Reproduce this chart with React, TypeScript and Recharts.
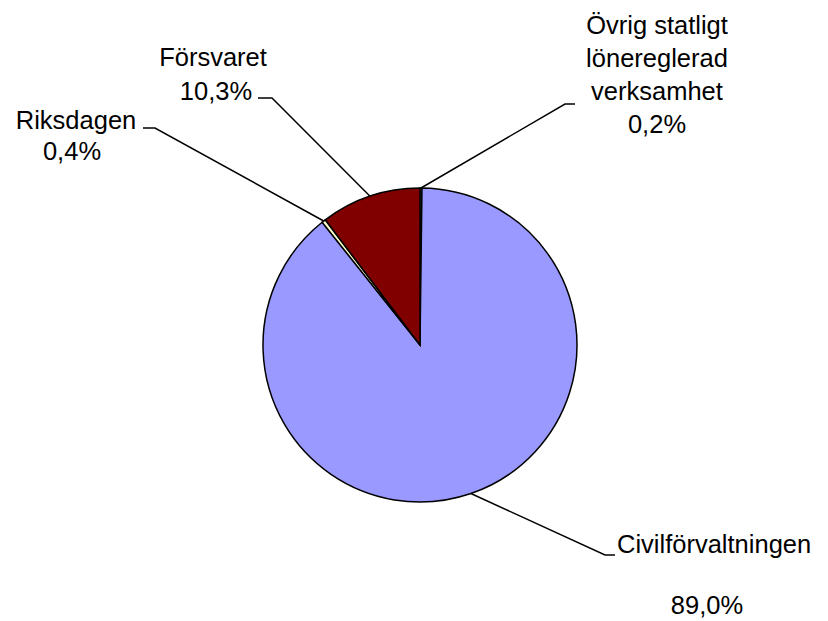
import { PieChart, Pie, Cell } from "recharts";

// Andel per sektor, medurs från klockan tolv
const SECTORS = ["Övrig statligt lönereglerad verksamhet", "Civilförvaltningen", "Riksdagen", "Försvaret"];
const NAME_LINES = [["Övrig statligt", "lönereglerad", "verksamhet"], ["Civilförvaltningen"], ["Riksdagen"], ["Försvaret"]];
const SHARES = [0.2, 89.0, 0.4, 10.3];
const COLORS = ["#CCFFFF", "#9999FF", "#FFFFCC", "#800000"];

// label placement (layout only)
type LabelPos = {
  elbow: [number, number];
  end: [number, number];
  nameX: number;
  nameY: number[];
  nameAnchor: "start" | "middle";
  pctX: number;
  pctY: number;
};
const LABEL_POS: LabelPos[] = [
  { elbow: [565, 104], end: [575, 104], nameX: 657, nameY: [34, 67, 100], nameAnchor: "middle", pctX: 657, pctY: 133 },
  { elbow: [605, 555], end: [615, 555], nameX: 617, nameY: [553], nameAnchor: "start", pctX: 707, pctY: 614 },
  { elbow: [155, 128], end: [143, 128], nameX: 76, nameY: [129], nameAnchor: "middle", pctX: 72, pctY: 160 },
  { elbow: [272, 98], end: [258, 98], nameX: 213, nameY: [66], nameAnchor: "middle", pctX: 216, pctY: 100 },
];

const data = SECTORS.map((name, i) => ({ name, value: SHARES[i] }));
const fmt = (v: number) => `${v.toFixed(1).replace(".", ",")}%`;
const RAD = Math.PI / 180;

const FONT = { fontFamily: "'Liberation Sans', Arial, sans-serif", fontSize: 25.5, fill: "#000" };

function renderLabel(props: any) {
  const { cx, cy, midAngle, outerRadius, index } = props;
  const pos = LABEL_POS[index];
  const sx = cx + outerRadius * Math.cos(-midAngle * RAD);
  const sy = cy + outerRadius * Math.sin(-midAngle * RAD);
  return (
    <g key={`lbl-${index}`}>
      <polyline
        points={`${sx},${sy} ${pos.elbow[0]},${pos.elbow[1]} ${pos.end[0]},${pos.end[1]}`}
        fill="none"
        stroke="#000"
        strokeWidth={1.5}
      />
      {NAME_LINES[index].map((t, j) => (
        <text key={j} x={pos.nameX} y={pos.nameY[j]} textAnchor={pos.nameAnchor} {...FONT}>
          {t}
        </text>
      ))}
      <text x={pos.pctX} y={pos.pctY} textAnchor="middle" {...FONT}>
        {fmt(SHARES[index])}
      </text>
    </g>
  );
}

export default function App() {
  return (
    <div style={{ position: "absolute", left: 0, top: 0, width: 828, height: 621, background: "#fff" }}>
      <PieChart width={828} height={621} margin={{ top: 0, right: 0, bottom: 0, left: 0 }}>
        <Pie
          data={data}
          dataKey="value"
          nameKey="name"
          cx={420}
          cy={345}
          outerRadius={157}
          startAngle={90}
          endAngle={-270}
          stroke="#000"
          strokeWidth={1.5}
          label={renderLabel}
          labelLine={false}
          isAnimationActive={false}
        >
          {data.map((d, i) => (
            <Cell key={d.name} fill={COLORS[i]} />
          ))}
        </Pie>
      </PieChart>
    </div>
  );
}
